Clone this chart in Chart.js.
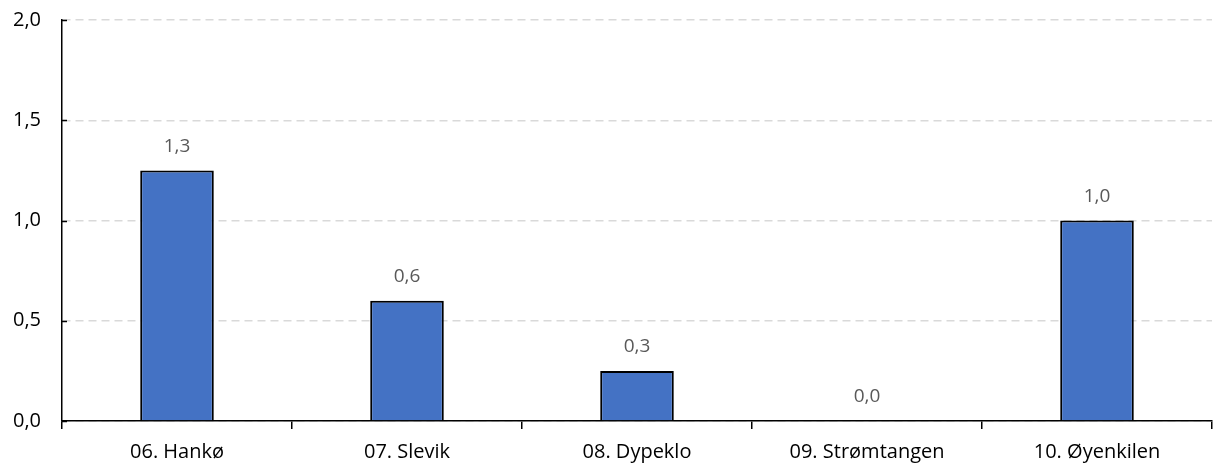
<!DOCTYPE html>
<html>
<head>
<meta charset="utf-8">
<script src="https://cdn.jsdelivr.net/npm/chart.js@4"></script>
<style>
  html, body { margin: 0; padding: 0; background: #ffffff; }
  #wrap { width: 1221px; height: 465px; }
</style>
</head>
<body>
<div id="wrap"><canvas id="chart" width="1221" height="465"></canvas></div>
<script>
// Stations along the x axis
const stations = ['06. Hankø', '07. Slevik', '08. Dypeklo', '09. Strømtangen', '10. Øyenkilen'];
// Measured value per station
const values = [1.25, 0.6, 0.25, 0, 1.0];
// Y axis range and step
const yMin = 0;
const yMax = 2;
const yStep = 0.5;

const FONT = '"Open Sans", sans-serif';
const fmt = v => v.toFixed(1).replace('.', ',');

// Value labels above each bar
const valueLabels = {
  id: 'valueLabels',
  afterDatasetsDraw(chart) {
    const ctx = chart.ctx;
    const meta = chart.getDatasetMeta(0);
    ctx.save();
    ctx.font = '19px ' + FONT;
    ctx.fillStyle = '#595959';
    ctx.textAlign = 'center';
    ctx.textBaseline = 'middle';
    meta.data.forEach((bar, i) => {
      ctx.fillText(fmt(values[i]), bar.x, bar.y - 24);
    });
    ctx.restore();
  }
};

// Short inward tick marks on the value axis
const innerTicks = {
  id: 'innerTicks',
  afterDraw(chart) {
    const ctx = chart.ctx;
    const y = chart.scales.y;
    const x0 = chart.chartArea.left;
    ctx.save();
    ctx.strokeStyle = '#000000';
    ctx.lineWidth = 1.5;
    y.ticks.forEach(t => {
      const py = Math.round(y.getPixelForValue(t.value)) + 0.5;
      ctx.beginPath();
      ctx.moveTo(x0, py);
      ctx.lineTo(x0 + 5, py);
      ctx.stroke();
    });
    ctx.restore();
  }
};

new Chart(document.getElementById('chart'), {
  type: 'bar',
  data: {
    labels: stations,
    datasets: [{
      data: values,
      backgroundColor: '#4472C4',
      borderColor: '#000000',
      borderWidth: 2,
      categoryPercentage: 1,
      barPercentage: 0.32
    }]
  },
  options: {
    responsive: false,
    animation: false,
    layout: { padding: { top: 20, right: 9, left: 0, bottom: 0 } },
    plugins: { legend: { display: false }, tooltip: { enabled: false } },
    scales: {
      x: {
        grid: {
          offset: true,
          drawOnChartArea: false,
          drawTicks: true,
          tickLength: 8,
          color: '#000000',
          lineWidth: 1.5
        },
        border: { color: '#000000', width: 1.5 },
        ticks: {
          color: '#000000',
          font: { family: FONT, size: 20 },
          padding: 11,
          maxRotation: 0
        },
        afterFit(scale) { scale.height = 44; }
      },
      y: {
        min: yMin,
        max: yMax,
        grid: {
          drawTicks: false,
          color: '#d9d9d9',
          lineWidth: 1.5
        },
        border: { color: '#000000', width: 1.5, dash: [8, 5], display: true },
        ticks: {
          stepSize: yStep,
          color: '#000000',
          font: { family: FONT, size: 20 },
          padding: 21,
          callback: v => fmt(v)
        },
        afterFit(scale) {
          scale.width = 62;
          scale.paddingTop = 0;
          scale.paddingBottom = 0;
        }
      }
    }
  },
  plugins: [valueLabels, innerTicks]
});
</script>
</body>
</html>
